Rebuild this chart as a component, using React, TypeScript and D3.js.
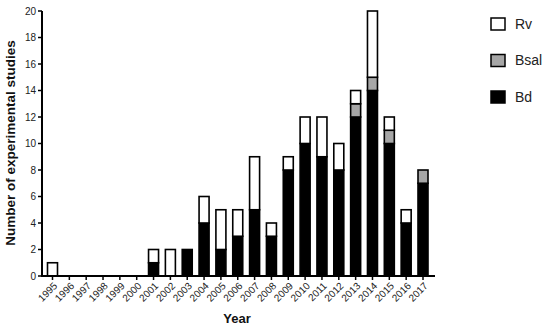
import React from "react";
import * as d3 from "d3";

const years = ["1995","1996","1997","1998","1999","2000","2001","2002","2003","2004","2005","2006","2007","2008","2009","2010","2011","2012","2013","2014","2015","2016","2017"];
const bd =   [0,0,0,0,0,0,1,0,2,4,2,3,5,3,8,10,9,8,12,14,10,4,7];
const bsal = [0,0,0,0,0,0,0,0,0,0,0,0,0,0,0,0,0,0,1,1,1,0,1];
const rv =   [1,0,0,0,0,0,1,2,0,2,3,2,4,1,1,2,3,2,1,5,1,1,0];
const yTicks = [0,2,4,6,8,10,12,14,16,18,20];
const seriesNames = ["Bd","Bsal","Rv"];
const seriesColors = ["#000000","#a6a6a6","#ffffff"];
const legendOrder = ["Rv","Bsal","Bd"];

export default function App() {
  const W = 550, H = 329;
  const axisX = 42, axisEnd = 435, y0 = 276, yTop = 11;
  const x = d3.scalePoint<string>().domain(years).range([52.5, 423]);
  const y = d3.scaleLinear().domain([0, 20]).range([y0, yTop]);
  const barW = 10;
  const rows = years.map((yr, i) => ({ year: yr, Bd: bd[i], Bsal: bsal[i], Rv: rv[i] }));
  const stack = d3.stack<any>().keys(seriesNames)(rows);
  const font = "Arial, 'Liberation Sans', sans-serif";
  return (
    <svg width={W} height={H} style={{ position: "absolute", left: 0, top: 0 }} fontFamily={font}>
      <rect width={W} height={H} fill="#fff" />
      {stack.map((layer, si) =>
        layer.map((d, i) => {
          if (d[1] - d[0] <= 0) return null;
          const cx = x(years[i])!;
          return (
            <rect key={si + "-" + i} x={cx - barW / 2} y={y(d[1])} width={barW} height={y(d[0]) - y(d[1])}
              fill={seriesColors[si]} stroke="#000" strokeWidth={1.6} />
          );
        })
      )}
      {/* y axis */}
      <line x1={axisX} x2={axisX} y1={yTop} y2={y0} stroke="#000" strokeWidth={2} />
      {yTicks.map((t) => (
        <g key={t}>
          <line x1={axisX - 4} x2={axisX} y1={y(t)} y2={y(t)} stroke="#000" strokeWidth={1.5} />
          <text x={axisX - 6} y={y(t)} dy="0.35em" textAnchor="end" fontSize={10} fill="#222">{t}</text>
        </g>
      ))}
      {/* x axis */}
      <line x1={axisX - 1} x2={axisEnd} y1={y0} y2={y0} stroke="#000" strokeWidth={2} />
      {years.map((yr) => {
        const cx = x(yr)!;
        return (
          <g key={yr}>
            <line x1={cx} x2={cx} y1={y0} y2={y0 + 4} stroke="#000" strokeWidth={1.5} />
            <text transform={`translate(${cx + 3},${y0 + 8}) rotate(-45)`} textAnchor="end" dy="0.35em" fontSize={10} fill="#222">{yr}</text>
          </g>
        );
      })}
      <text x={237} y={323} textAnchor="middle" fontWeight="bold" fontSize={13} fill="#111">Year</text>
      <text transform={`translate(15,143) rotate(-90)`} textAnchor="middle" fontWeight="bold" fontSize={13.5} fill="#111">Number of experimental studies</text>
      {/* legend */}
      {legendOrder.map((name, i) => {
        const si = seriesNames.indexOf(name);
        const ly = 24 + i * 36.5;
        return (
          <g key={name}>
            <rect x={491} y={ly - 6} width={14} height={12} fill={seriesColors[si]} stroke="#000" strokeWidth={1.5} />
            <text x={515} y={ly} dy="0.35em" fontSize={14} fill="#222">{name}</text>
          </g>
        );
      })}
    </svg>
  );
}
